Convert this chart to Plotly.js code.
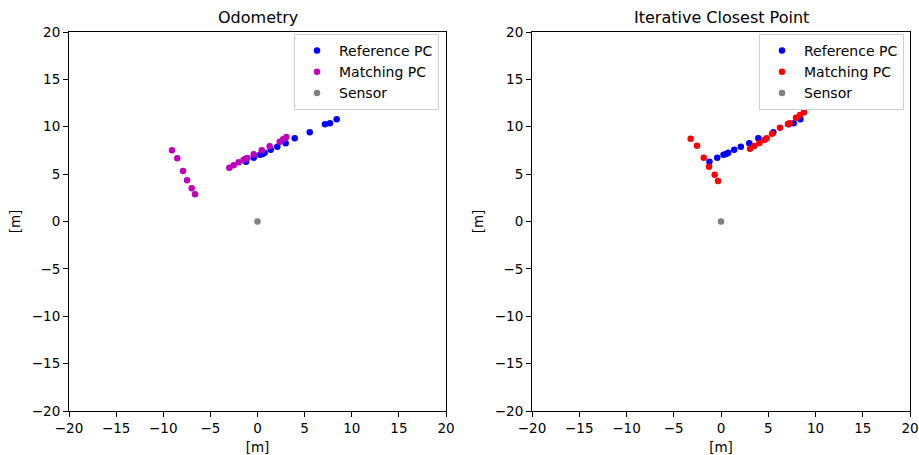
<!DOCTYPE html>
<html>
<head>
<meta charset="utf-8">
<script src="https://cdn.plot.ly/plotly-3.0.1.min.js"></script>
<style>html,body{margin:0;padding:0;background:#fff;}#plot{width:919px;height:455px;}</style>
</head>
<body>
<div id="plot"></div>
<script>
// Reference point cloud (shared by both panels)
const refX = [-1.22, -0.40, 0.27, 0.55, 0.76, 1.40, 2.10, 2.99, 3.95, 5.54, 7.16, 7.69, 8.40];
const refY = [6.31, 6.73, 7.05, 7.12, 7.26, 7.58, 7.90, 8.25, 8.78, 9.41, 10.26, 10.36, 10.78];

// Matching point cloud from odometry
const odoX = [-9.07, -8.51, -7.90, -7.48, -6.98, -6.63, -2.99, -2.53, -2.00, -1.47, -1.25, -1.08, -0.40, 0.45, 1.29, 2.36, 2.71, 3.06];
const odoY = [7.51, 6.67, 5.33, 4.35, 3.50, 2.87, 5.68, 5.93, 6.25, 6.52, 6.63, 6.70, 7.09, 7.51, 7.94, 8.42, 8.67, 8.92];

// Matching point cloud after ICP
const icpX = [-3.21, -2.54, -1.83, -1.27, -0.67, -0.32, 3.07, 3.52, 4.06, 4.58, 4.83, 5.40, 6.24, 7.09, 7.27, 7.94, 8.36, 8.78];
const icpY = [8.74, 8.00, 6.73, 5.78, 4.94, 4.28, 7.68, 7.97, 8.28, 8.60, 8.78, 9.27, 9.90, 10.29, 10.36, 10.95, 11.24, 11.52];

// Sensor position
const sensorX = [0];
const sensorY = [0];

const titles = ["Odometry", "Iterative Closest Point"];
const legendNames = ["Reference PC", "Matching PC", "Sensor"];
const axisLabel = "[m]";
const tickVals = [-20, -15, -10, -5, 0, 5, 10, 15, 20];
const tickText = ["\u221220", "\u221215", "\u221210", "\u22125", "0", "5", "10", "15", "20"];

const FONT = "DejaVu Sans, sans-serif";
const mk = (c) => ({color: c, size: 6.5});

const traces = [
  {x: refX, y: refY, xaxis: 'x', yaxis: 'y', mode: 'markers', type: 'scatter', name: legendNames[0], marker: mk('#0000ff'), legend: 'legend'},
  {x: odoX, y: odoY, xaxis: 'x', yaxis: 'y', mode: 'markers', type: 'scatter', name: legendNames[1], marker: mk('#bf00bf'), legend: 'legend'},
  {x: sensorX, y: sensorY, xaxis: 'x', yaxis: 'y', mode: 'markers', type: 'scatter', name: legendNames[2], marker: mk('#808080'), legend: 'legend'},
  {x: refX, y: refY, xaxis: 'x2', yaxis: 'y2', mode: 'markers', type: 'scatter', name: legendNames[0], marker: mk('#0000ff'), legend: 'legend2'},
  {x: icpX, y: icpY, xaxis: 'x2', yaxis: 'y2', mode: 'markers', type: 'scatter', name: legendNames[1], marker: mk('#ff0000'), legend: 'legend2'},
  {x: sensorX, y: sensorY, xaxis: 'x2', yaxis: 'y2', mode: 'markers', type: 'scatter', name: legendNames[2], marker: mk('#808080'), legend: 'legend2'}
];

const W = 919, H = 455;
const yDom = [(H - 411) / H, (H - 32) / H];

function ax(dom, anchor, isX) {
  return {
    domain: dom, anchor: anchor, range: [-20, 20],
    tickvals: tickVals, ticktext: tickText,
    showgrid: false, zeroline: false,
    showline: true, mirror: true, linecolor: '#000', linewidth: 1,
    ticks: 'outside', ticklen: 5, tickwidth: 1, tickcolor: '#000',
    tickfont: {family: FONT, size: 13.5, color: '#000'},
    title: {text: axisLabel, font: {family: FONT, size: 13.5, color: '#000'}, standoff: isX ? 7 : 8},
    fixedrange: true
  };
}

const legStyle = (xr) => ({
  x: xr, y: (H - 34) / H, xanchor: 'right', yanchor: 'top',
  bgcolor: 'rgba(255,255,255,0.8)', bordercolor: '#d0d0d0', borderwidth: 1,
  font: {family: FONT, size: 14, color: '#000'}, itemwidth: 34, tracegroupgap: 0
});

const layout = {
  width: W, height: H,
  margin: {l: 0, r: 0, t: 0, b: 0},
  paper_bgcolor: '#fff', plot_bgcolor: '#fff',
  showlegend: true,
  xaxis: ax([69 / W, 446 / W], 'y', true),
  yaxis: ax(yDom, 'x', false),
  xaxis2: ax([532 / W, 910 / W], 'y2', true),
  yaxis2: ax(yDom, 'x2', false),
  legend: legStyle(439 / W),
  legend2: legStyle(904 / W),
  annotations: [
    {text: titles[0], xref: 'paper', yref: 'paper', x: 257.5 / W, y: (H - 18) / H, xanchor: 'center', yanchor: 'middle', showarrow: false, font: {family: FONT, size: 16, color: '#000'}},
    {text: titles[1], xref: 'paper', yref: 'paper', x: 721 / W, y: (H - 18) / H, xanchor: 'center', yanchor: 'middle', showarrow: false, font: {family: FONT, size: 16, color: '#000'}}
  ]
};

Plotly.newPlot('plot', traces, layout, {displayModeBar: false, staticPlot: true});
</script>
</body>
</html>
